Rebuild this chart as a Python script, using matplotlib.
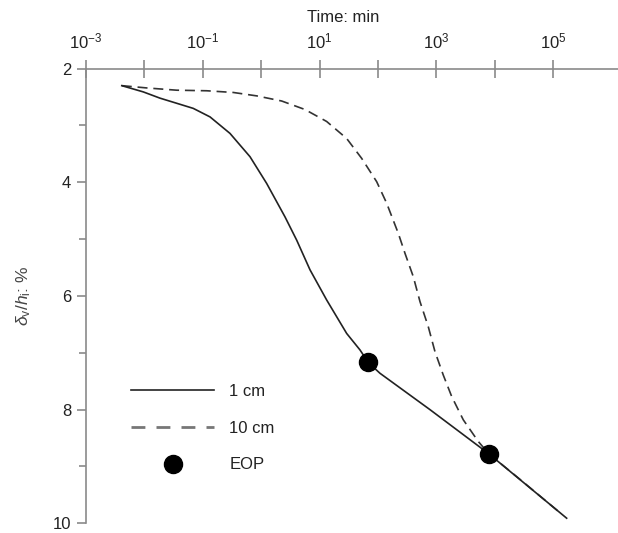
import matplotlib
matplotlib.use('Agg')
import matplotlib.pyplot as plt
from matplotlib.ticker import FixedLocator, FixedFormatter

plt.rcParams['font.family'] = ['Liberation Sans', 'DejaVu Sans']
plt.rcParams['mathtext.fontset'] = 'custom'
plt.rcParams['mathtext.rm'] = 'Liberation Sans'
plt.rcParams['mathtext.it'] = 'Liberation Sans:italic'

# settlement curves, time in minutes, strain in %
t_1cm = [0.0041, 0.00957, 0.0185, 0.0357, 0.0687, 0.133, 0.292, 0.643, 1.24,
         2.56, 4.06, 6.85, 13.2, 29.1, 49.2, 68.2, 108, 776, 7960, 170000]
s_1cm = [2.30, 2.41, 2.52, 2.61, 2.70, 2.85, 3.14, 3.55, 4.02,
         4.61, 5.02, 5.54, 6.07, 6.66, 6.95, 7.17, 7.36, 8.00, 8.78, 9.91]

t_10cm = [0.0041, 0.0109, 0.0357, 0.117, 0.333, 0.838, 2.24, 5.62, 13.2, 29.1,
          52.6, 95, 141, 223, 290, 402, 524, 726, 946, 1310, 1830, 2890, 5210,
          7960, 25100, 126000]
s_10cm = [2.30, 2.34, 2.38, 2.39, 2.42, 2.48, 2.57, 2.72, 2.93, 3.23,
          3.58, 3.99, 4.37, 4.90, 5.25, 5.66, 6.10, 6.54, 6.98, 7.39, 7.77, 8.18, 8.56,
          8.78, 9.20, 9.80]

# end of primary consolidation
t_eop = [68.2, 7960]
s_eop = [7.17, 8.78]

xticks = [10.0**k for k in range(-3, 6)]
xticklabels = [r'$10^{%d}$' % k if k % 2 else '' for k in range(-3, 6)]
yticks = [2, 4, 6, 8, 10]
yminor = [3, 5, 7, 9]

fig = plt.figure(figsize=(6.18, 5.33), dpi=100)
ax = fig.add_axes([86/618, 1-523.3/533, 1-86/618, (523.3-68.6)/533])

ax.plot(t_1cm, s_1cm, color='#222222', lw=1.2, label='1 cm', zorder=3)
ax.plot(t_10cm, s_10cm, color='#333333', lw=1.2, dashes=(6, 3.5), label='10 cm', zorder=2)
ax.plot(t_eop, s_eop, 'o', color='black', ms=13, label='EOP', zorder=4)

ax.set_xscale('log')
ax.set_xlim(1e-3, 10**6.11)
ax.set_ylim(10, 2)

grey = '#8a8a8a'
for side in ['right', 'bottom']:
    ax.spines[side].set_visible(False)
for side in ['left', 'top']:
    ax.spines[side].set_color(grey)
    ax.spines[side].set_linewidth(1.2)

ax.xaxis.tick_top()
ax.xaxis.set_major_locator(FixedLocator(xticks))
ax.xaxis.set_major_formatter(FixedFormatter(xticklabels))
ax.xaxis.set_minor_locator(FixedLocator([]))
ax.tick_params(axis='x', which='major', direction='inout', length=12.7, width=1.2,
               color=grey, labelsize=12, labelcolor='#222222', pad=6)
ax.xaxis.set_label_position('top')
ax.set_xlabel('Time: min', fontsize=12, color='#222222')
ax.xaxis.set_label_coords(0.483, 1.0 + 47/455)

ax.set_yticks(yticks)
ax.set_yticks(yminor, minor=True)
ax.tick_params(axis='y', which='major', direction='out', length=6.7, width=1.2,
               color=grey, labelsize=12, labelcolor='#222222', pad=4)
ax.tick_params(axis='y', which='minor', direction='out', length=4.8, width=1.2, color=grey)
ax.set_ylabel(r'$\delta_{\rm v}/h_{\rm i}$: %', fontsize=12.5, color='#444444')
ax.yaxis.set_label_coords(-(86 - 33)/532, 0.5)

leg = ax.legend(loc='center left', bbox_to_anchor=(131/618, 1-428.3/533),
                bbox_transform=fig.transFigure, frameon=False, fontsize=12,
                handlelength=5.0, handletextpad=0.9, labelspacing=1.3,
                borderpad=0, borderaxespad=0, labelcolor='#222222')
# dashed key is drawn a bit lighter and heavier
leg.get_lines()[1].set_color('#777777')
leg.get_lines()[1].set_linewidth(2.0)
leg.get_lines()[1].set_dashes((5, 4))

fig.savefig('out.png', dpi=100)
